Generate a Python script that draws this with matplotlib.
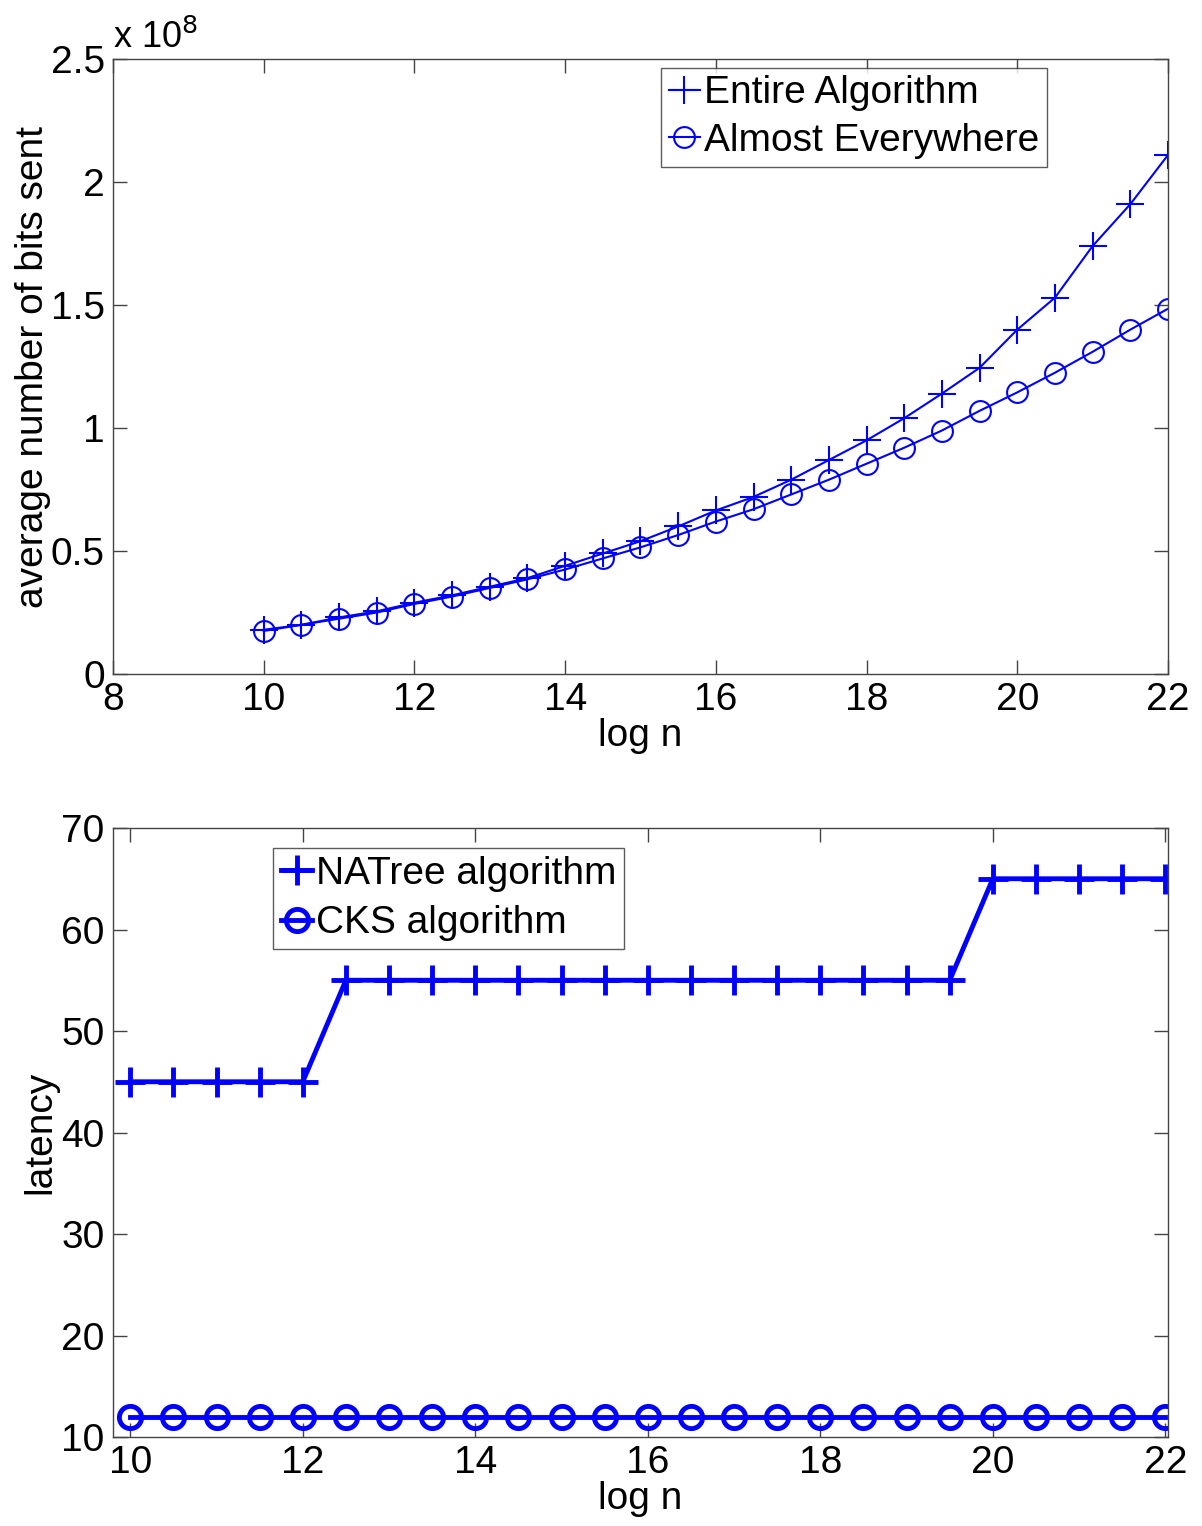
import matplotlib
matplotlib.use("Agg")
import matplotlib.pyplot as plt
import numpy as np

plt.rcParams['font.family'] = ['Liberation Sans', 'DejaVu Sans']

# data
log_n = [10, 10.5, 11, 11.5, 12, 12.5, 13, 13.5, 14, 14.5, 15, 15.5, 16,
         16.5, 17, 17.5, 18, 18.5, 19, 19.5, 20, 20.5, 21, 21.5, 22]
entire = [0.18, 0.20, 0.23, 0.255, 0.29, 0.32, 0.355, 0.39, 0.44, 0.49,
          0.54, 0.60, 0.665, 0.72, 0.79, 0.87, 0.95, 1.04, 1.14, 1.245,
          1.40, 1.53, 1.74, 1.91, 2.11]  # x 1e8
almost = [0.175, 0.20, 0.225, 0.25, 0.285, 0.315, 0.35, 0.385, 0.425, 0.47,
          0.515, 0.565, 0.62, 0.67, 0.73, 0.79, 0.855, 0.92, 0.99, 1.07,
          1.145, 1.225, 1.31, 1.40, 1.485]  # x 1e8
natree = [45, 45, 45, 45, 45, 55, 55, 55, 55, 55, 55, 55, 55, 55, 55, 55,
          55, 55, 55, 55, 65, 65, 65, 65, 65]
cks = [12] * 25

blue = (0, 0, 1)
fs = 28

fig = plt.figure(figsize=(12.02, 15.26), dpi=100)

# ---- top plot: bits sent ----
ax1 = fig.add_axes([0.094, 0.5583, 0.8777, 0.403])
ax1.plot(log_n, np.array(entire) * 1e8, color=blue, marker='+', ms=20,
         mew=1.5, lw=1.5, label='Entire Algorithm')
ax1.plot(log_n, np.array(almost) * 1e8, color=blue, marker='o', ms=15,
         mfc='none', mew=1.5, lw=1.5, label='Almost Everywhere')
ax1.set_xlim(8, 22)
ax1.set_ylim(0, 2.5e8)
ax1.set_xticks([8, 10, 12, 14, 16, 18, 20, 22])
ax1.set_yticks(np.array([0, 0.5, 1, 1.5, 2, 2.5]) * 1e8)
ax1.set_yticklabels(['0', '0.5', '1', '1.5', '2', '2.5'])
ax1.text(0.0, 1.005, r'x 10$^{8}$', transform=ax1.transAxes, fontsize=fs - 2,
         ha='left', va='bottom')
ax1.set_xlabel('log n', fontsize=fs, labelpad=0)
ax1.set_ylabel('average number of bits sent', fontsize=fs, labelpad=0)
leg1 = ax1.legend(loc='upper right', bbox_to_anchor=(0.885, 0.986),
                  fontsize=fs, handlelength=0.8, handletextpad=0.1,
                  borderpad=0.2, labelspacing=0.3, fancybox=False,
                  borderaxespad=0)
leg1.get_frame().set_edgecolor('#333333')
leg1.get_frame().set_linewidth(1.0)

# ---- bottom plot: latency ----
ax2 = fig.add_axes([0.094, 0.0583, 0.8777, 0.3991])
ax2.plot(log_n, natree, color=blue, marker='+', ms=22, mew=3.5, lw=3.5,
         label='NATree algorithm')
ax2.plot(log_n, cks, color=blue, marker='o', ms=16, mfc='none', mew=3.5,
         lw=3.5, label='CKS algorithm')
ax2.set_xlim(9.8, 22.03)
ax2.set_ylim(10, 70)
ax2.set_xticks([10, 12, 14, 16, 18, 20, 22])
ax2.set_yticks([10, 20, 30, 40, 50, 60, 70])
ax2.set_xlabel('log n', fontsize=fs, labelpad=0)
ax2.set_ylabel('latency', fontsize=fs, labelpad=2)
leg2 = ax2.legend(loc='upper left', bbox_to_anchor=(0.152, 0.967),
                  fontsize=fs, handlelength=0.8, handletextpad=0.1,
                  borderpad=0.2, labelspacing=0.35, fancybox=False,
                  borderaxespad=0)
leg2.get_frame().set_edgecolor('#333333')
leg2.get_frame().set_linewidth(1.0)

for ax in (ax1, ax2):
    ax.tick_params(direction='in', length=10, width=1, labelsize=fs,
                   top=True, right=True, color='#444444', pad=6)
    for s in ax.spines.values():
        s.set_color('#444444')
        s.set_linewidth(1.0)

fig.savefig('out.png', dpi=100)
